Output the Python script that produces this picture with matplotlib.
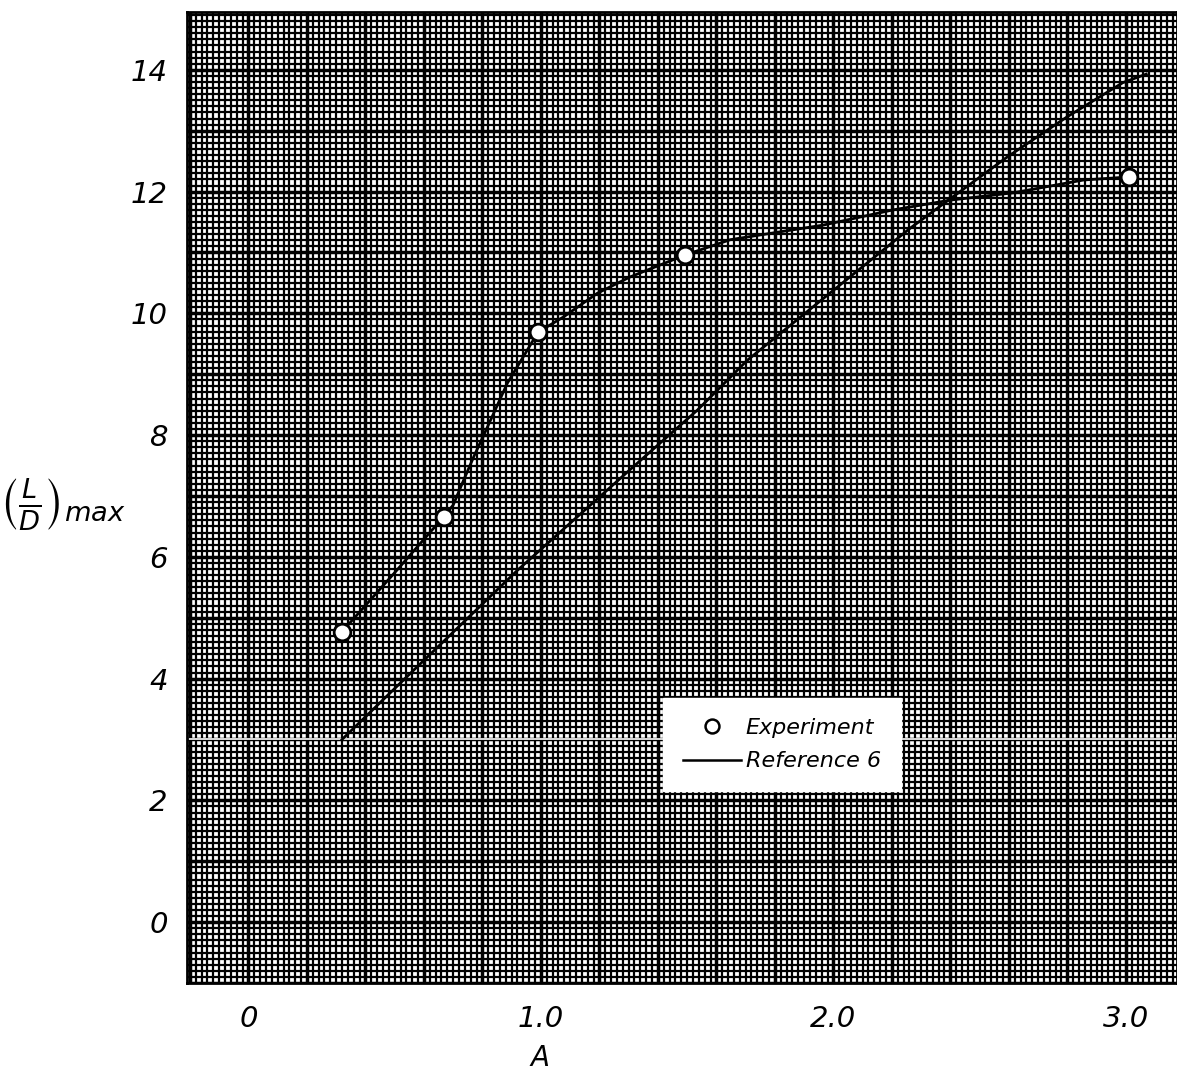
import numpy as np
import matplotlib
matplotlib.use("Agg")
import matplotlib.pyplot as plt
from matplotlib.ticker import MultipleLocator, FuncFormatter
from matplotlib.lines import Line2D

# Experiment data points (aspect ratio A, (L/D)max)
exp_A = [0.32, 0.668, 0.99, 1.494, 3.01]
exp_LD = [4.77, 6.66, 9.69, 10.96, 12.24]

# Faired curve through experiment (traced)
fair_A = [0.32, 0.50, 0.668, 0.70, 0.735, 0.77, 0.817, 0.885, 0.954, 0.99, 1.077, 1.193,
          1.306, 1.494, 1.648, 1.819, 1.966, 2.205, 2.40, 2.615, 2.855, 3.01]
fair_LD = [4.77, 5.74, 6.66, 6.85, 7.25, 7.64, 8.13, 8.85, 9.40, 9.69, 9.94, 10.33,
           10.60, 10.96, 11.21, 11.34, 11.45, 11.70, 11.86, 11.98, 12.19, 12.24]

# Reference 6 theory line (traced)
ref_A = [0.32, 0.52, 0.92, 1.316, 1.535, 1.706, 1.98, 2.263, 2.595, 2.80, 2.99, 3.07]
ref_LD = [3.00, 3.93, 5.78, 7.48, 8.41, 9.23, 10.30, 11.40, 12.57, 13.23, 13.79, 13.93]

x_ticks = [0, 1.0, 2.0, 3.0]
x_tick_labels = ["0", "1.0", "2.0", "3.0"]
y_ticks = [0, 2, 4, 6, 8, 10, 12, 14]

fig = plt.figure(figsize=(11.77, 10.79), dpi=100)
ax = fig.add_axes([187/1177, 1 - 983/1079, (1177 - 187)/1177, (983 - 12)/1079])
ax.set_xlim(-0.21, 3.175)
ax.set_ylim(-1.0, 14.95)

# graph paper grid
ax.xaxis.set_minor_locator(MultipleLocator(0.02))
ax.yaxis.set_minor_locator(MultipleLocator(0.1))
ax.xaxis.set_major_locator(MultipleLocator(0.2))
ax.yaxis.set_major_locator(MultipleLocator(1.0))
ax.grid(which="minor", color="black", linewidth=1.6)
ax.grid(which="major", color="black", linewidth=2.5)
ax.set_axisbelow(True)

def xfmt(v, pos):
    for t, l in zip(x_ticks, x_tick_labels):
        if abs(v - t) < 1e-6:
            return l
    return ""

def yfmt(v, pos):
    for t in y_ticks:
        if abs(v - t) < 1e-6:
            return str(t)
    return ""

ax.xaxis.set_major_formatter(FuncFormatter(xfmt))
ax.yaxis.set_major_formatter(FuncFormatter(yfmt))
ax.tick_params(which="both", length=0)
ax.tick_params(axis="x", pad=16, labelsize=21)
ax.tick_params(axis="y", pad=14, labelsize=21)
for lab in ax.get_xticklabels() + ax.get_yticklabels():
    lab.set_fontstyle("italic")

for s in ax.spines.values():
    s.set_linewidth(2)
    s.set_color("black")

# scan artifact white streak
ax.axhline(3.0, color="white", linewidth=1.2, zorder=1.5)

ax.plot(ref_A, ref_LD, color="black", linewidth=2.0, zorder=3)
ax.plot(fair_A, fair_LD, color="black", linewidth=2.0, zorder=3)
ax.plot(exp_A, exp_LD, linestyle="none", marker="o", markersize=12,
        markerfacecolor="white", markeredgecolor="black", markeredgewidth=2.0, zorder=4)

handles = [Line2D([], [], linestyle="none", marker="o", markersize=10,
                  markerfacecolor="white", markeredgecolor="black", markeredgewidth=1.8),
           Line2D([], [], color="black", linewidth=1.8)]
leg = ax.legend(handles, ["Experiment", "Reference 6"], loc="upper left",
                bbox_to_anchor=(0.47, 0.305), frameon=True, fancybox=False,
                framealpha=1, edgecolor="white", facecolor="white",
                prop={"size": 16, "style": "italic"}, handlelength=2.6,
                handletextpad=0.2, borderpad=0.9, labelspacing=0.6)
leg.set_zorder(5)

fig.text(540/1177, 1 - 1058/1079, "A", fontsize=20, fontstyle="italic",
         ha="center", va="center")
fig.text(62/1177, 1 - 505/1079, r"$\left(\frac{L}{D}\right)_{max}$",
         fontsize=28, ha="center", va="center")

fig.savefig("out.png", dpi=100)
